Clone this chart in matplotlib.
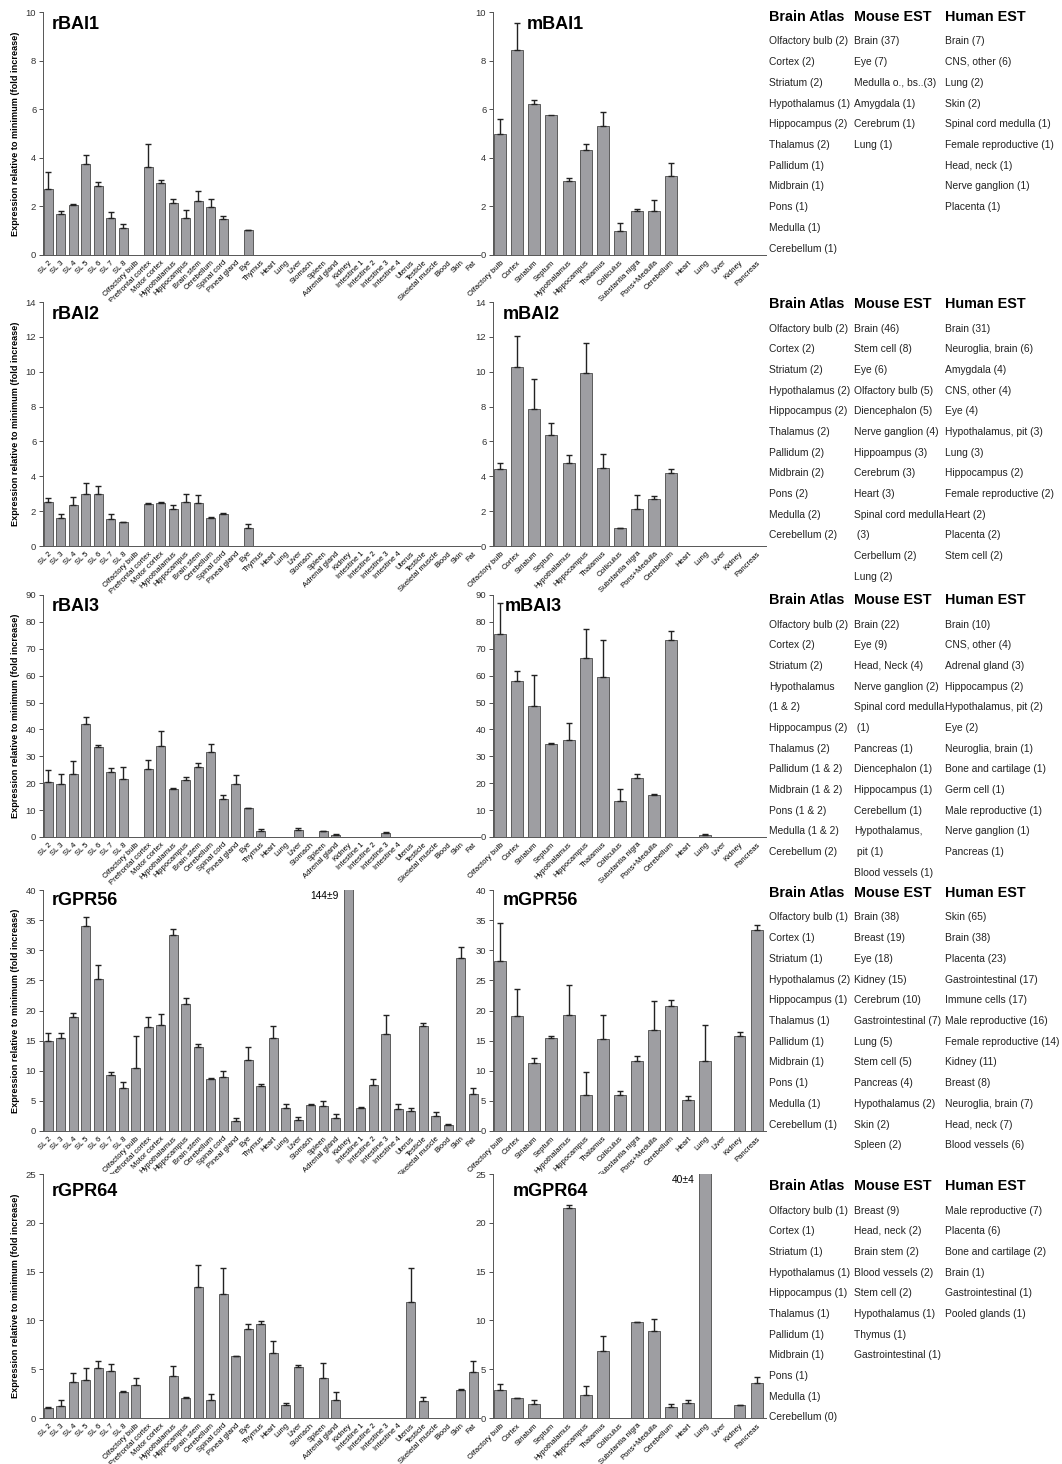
import numpy as np
import matplotlib.pyplot as plt

plt.rcParams['font.family'] = ['Liberation Sans', 'DejaVu Sans']

nan = np.nan

rat_tissues = ['SL 2', 'SL 3', 'SL 4', 'SL 5', 'SL 6', 'SL 7', 'SL 8', 'Olfactory bulb',
               'Prefrontal cortex', 'Motor cortex', 'Hypothalamus', 'Hippocampus', 'Brain stem',
               'Cerebellum', 'Spinal cord', 'Pineal gland', 'Eye', 'Thymus', 'Heart', 'Lung',
               'Liver', 'Stomach', 'Spleen', 'Adrenal gland', 'Kidney', 'Intestine 1',
               'Intestine 2', 'Intestine 3', 'Intestine 4', 'Uterus', 'Testicle',
               'Skeletal muscle', 'Blood', 'Skin', 'Fat']
mouse_tissues = ['Olfactory bulb', 'Cortex', 'Striatum', 'Septum', 'Hypothalamus', 'Hippocampus',
                 'Thalamus', 'Colliculus', 'Substantia nigra', 'Pons+Medulla', 'Cerebellum',
                 'Heart', 'Lung', 'Liver', 'Kidney', 'Pancreas']

# rat panels (mean, upper error)
rbai1_vals = [2.72, 1.67, 2.04, 3.74, 2.85, 1.54, 1.12, nan, 3.62, 2.96, 2.14, 1.51, 2.22, 1.96,
              1.48, nan, 1.01] + [nan] * 18
rbai1_errs = [0.71, 0.13, 0.04, 0.38, 0.14, 0.23, 0.16, nan, 0.93, 0.14, 0.15, 0.34, 0.40, 0.36,
              0.11, nan, 0.03] + [nan] * 18

rbai2_vals = [2.53, 1.61, 2.38, 3.01, 3.01, 1.57, 1.36, nan, 2.42, 2.44, 2.15, 2.55, 2.46, 1.63,
              1.86, nan, 1.04] + [nan] * 18
rbai2_errs = [0.21, 0.23, 0.46, 0.59, 0.41, 0.25, 0.04, nan, 0.04, 0.09, 0.23, 0.42, 0.48, 0.02,
              0.04, nan, 0.21] + [nan] * 18

rbai3_vals = [20.3, 19.7, 23.5, 42.1, 33.3, 24.3, 21.5, nan, 25.4, 34.0, 17.8, 21.3, 26.0, 31.7,
              14.2, 19.7, 10.6, 2.1, nan, nan, 2.5, nan, 2.1, 0.8, nan, nan, nan, 1.5, nan,
              nan, nan, nan, nan, nan, nan]
rbai3_errs = [4.5, 3.9, 4.6, 2.5, 0.9, 1.2, 4.4, nan, 3.4, 5.4, 0.3, 1.2, 1.7, 2.8,
              1.3, 3.4, 0.2, 0.7, nan, nan, 0.8, nan, 0.2, 0.2, nan, nan, nan, 0.2, nan,
              nan, nan, nan, nan, nan, nan]

rgpr56_vals = [15.0, 15.5, 18.9, 34.1, 25.3, 9.3, 7.1, 10.4, 17.3, 17.6, 32.5, 21.1, 13.9, 8.6,
               8.9, 1.66, 11.8, 7.5, 15.4, 3.9, 1.77, 4.3, 4.2, 2.1, 144, 3.9, 7.6, 16.1, 3.7,
               3.3, 17.4, 2.5, 1.05, 28.7, 6.2]
rgpr56_errs = [1.2, 0.7, 0.7, 1.4, 2.2, 0.5, 1.0, 5.3, 1.7, 1.9, 1.0, 0.9, 0.6, 0.2,
               1.1, 0.54, 2.1, 0.3, 2.1, 0.5, 0.53, 0.1, 0.7, 0.8, 9, 0.1, 1.1, 3.1, 0.8,
               0.5, 0.6, 0.7, 0.05, 1.8, 0.9]

rgpr64_vals = [1.02, 1.23, 3.65, 3.92, 5.12, 4.81, 2.7, 3.34, nan, nan, 4.33, 2.08, 13.38, 1.81,
               12.66, 6.31, 9.08, 9.66, 6.66, 1.3, 5.22, nan, 4.1, 1.88, nan, nan, nan, nan, nan,
               11.9, 1.7, nan, nan, 2.9, 4.68]
rgpr64_errs = [0.07, 0.65, 0.95, 1.18, 0.72, 0.75, 0.03, 0.76, nan, nan, 1.03, 0.08, 2.29, 0.61,
               2.7, 0.03, 0.54, 0.24, 1.26, 0.27, 0.17, nan, 1.5, 0.75, nan, nan, nan, nan, nan,
               3.46, 0.45, nan, nan, 0.05, 1.12]

# mouse panels
mbai1_vals = [4.97, 8.44, 6.21, 5.75, 3.03, 4.33, 5.3, 1.0, 1.81, 1.81, 3.27, nan, nan, nan, nan, nan]
mbai1_errs = [0.62, 1.12, 0.16, nan, 0.14, 0.24, 0.6, 0.31, 0.09, 0.47, 0.51, nan, nan, nan, nan, nan]

mbai2_vals = [4.43, 10.25, 7.86, 6.36, 4.76, 9.92, 4.49, 1.02, 2.12, 2.7, 4.16, nan, nan, nan, nan, nan]
mbai2_errs = [0.35, 1.79, 1.74, 0.71, 0.46, 1.74, 0.79, 0.02, 0.83, 0.15, 0.27, nan, nan, nan, nan, nan]

mbai3_vals = [75.6, 57.9, 48.6, 34.5, 36.0, 66.7, 59.4, 13.5, 22.1, 15.5, 73.4, nan, 0.8, nan, nan, nan]
mbai3_errs = [11.6, 3.9, 11.8, 0.5, 6.4, 10.7, 13.8, 4.4, 1.2, 0.5, 3.3, nan, 0.4, nan, nan, nan]

mgpr56_vals = [28.25, 19.1, 11.3, 15.4, 19.3, 6.04, 15.3, 6.04, 11.7, 16.7, 20.7, 5.1, 11.6, nan,
               15.8, 33.35]
mgpr56_errs = [6.35, 4.4, 0.8, 0.4, 4.9, 3.8, 4.0, 0.56, 0.8, 4.8, 1.0, 0.7, 6.0, nan, 0.7, 0.85]

mgpr64_vals = [2.9, 2.0, 1.4, nan, 21.5, 2.4, 6.9, nan, 9.8, 8.9, 1.1, 1.5, 40, nan, 1.3, 3.6]
mgpr64_errs = [0.6, 0.05, 0.4, nan, 0.3, 0.9, 1.5, nan, 0.05, 1.2, 0.3, 0.3, 4, nan, 0.05, 0.6]

# EST / atlas tables
bai1_atlas = ['Olfactory bulb (2)', 'Cortex (2)', 'Striatum (2)', 'Hypothalamus (1)',
              'Hippocampus (2)', 'Thalamus (2)', 'Pallidum (1)', 'Midbrain (1)', 'Pons (1)',
              'Medulla (1)', 'Cerebellum (1)']
bai1_mouse = ['Brain (37)', 'Eye (7)', 'Medulla o., bs..(3)', 'Amygdala (1)', 'Cerebrum (1)',
              'Lung (1)']
bai1_human = ['Brain (7)', 'CNS, other (6)', 'Lung (2)', 'Skin (2)', 'Spinal cord medulla (1)',
              'Female reproductive (1)', 'Head, neck (1)', 'Nerve ganglion (1)', 'Placenta (1)']

bai2_atlas = ['Olfactory bulb (2)', 'Cortex (2)', 'Striatum (2)', 'Hypothalamus (2)',
              'Hippocampus (2)', 'Thalamus (2)', 'Pallidum (2)', 'Midbrain (2)', 'Pons (2)',
              'Medulla (2)', 'Cerebellum (2)']
bai2_mouse = ['Brain (46)', 'Stem cell (8)', 'Eye (6)', 'Olfactory bulb (5)', 'Diencephalon (5)',
              'Nerve ganglion (4)', 'Hippoampus (3)', 'Cerebrum (3)', 'Heart (3)',
              'Spinal cord medulla', ' (3)', 'Cerbellum (2)', 'Lung (2)']
bai2_human = ['Brain (31)', 'Neuroglia, brain (6)', 'Amygdala (4)', 'CNS, other (4)', 'Eye (4)',
              'Hypothalamus, pit (3)', 'Lung (3)', 'Hippocampus (2)', 'Female reproductive (2)',
              'Heart (2)', 'Placenta (2)', 'Stem cell (2)']

bai3_atlas = ['Olfactory bulb (2)', 'Cortex (2)', 'Striatum (2)', 'Hypothalamus', '(1 & 2)',
              'Hippocampus (2)', 'Thalamus (2)', 'Pallidum (1 & 2)', 'Midbrain (1 & 2)',
              'Pons (1 & 2)', 'Medulla (1 & 2)', 'Cerebellum (2)']
bai3_mouse = ['Brain (22)', 'Eye (9)', 'Head, Neck (4)', 'Nerve ganglion (2)', 'Spinal cord medulla',
              ' (1)', 'Pancreas (1)', 'Diencephalon (1)', 'Hippocampus (1)', 'Cerebellum (1)',
              'Hypothalamus,', ' pit (1)', 'Blood vessels (1)']
bai3_human = ['Brain (10)', 'CNS, other (4)', 'Adrenal gland (3)', 'Hippocampus (2)',
              'Hypothalamus, pit (2)', 'Eye (2)', 'Neuroglia, brain (1)', 'Bone and cartilage (1)',
              'Germ cell (1)', 'Male reproductive (1)', 'Nerve ganglion (1)', 'Pancreas (1)']

gpr56_atlas = ['Olfactory bulb (1)', 'Cortex (1)', 'Striatum (1)', 'Hypothalamus (2)',
               'Hippocampus (1)', 'Thalamus (1)', 'Pallidum (1)', 'Midbrain (1)', 'Pons (1)',
               'Medulla (1)', 'Cerebellum (1)']
gpr56_mouse = ['Brain (38)', 'Breast (19)', 'Eye (18)', 'Kidney (15)', 'Cerebrum (10)',
               'Gastrointestinal (7)', 'Lung (5)', 'Stem cell (5)', 'Pancreas (4)',
               'Hypothalamus (2)', 'Skin (2)', 'Spleen (2)']
gpr56_human = ['Skin (65)', 'Brain (38)', 'Placenta (23)', 'Gastrointestinal (17)',
               'Immune cells (17)', 'Male reproductive (16)', 'Female reproductive (14)',
               'Kidney (11)', 'Breast (8)', 'Neuroglia, brain (7)', 'Head, neck (7)',
               'Blood vessels (6)']

gpr64_atlas = ['Olfactory bulb (1)', 'Cortex (1)', 'Striatum (1)', 'Hypothalamus (1)',
               'Hippocampus (1)', 'Thalamus (1)', 'Pallidum (1)', 'Midbrain (1)', 'Pons (1)',
               'Medulla (1)', 'Cerebellum (0)']
gpr64_mouse = ['Breast (9)', 'Head, neck (2)', 'Brain stem (2)', 'Blood vessels (2)',
               'Stem cell (2)', 'Hypothalamus (1)', 'Thymus (1)', 'Gastrointestinal (1)']
gpr64_human = ['Male reproductive (7)', 'Placenta (6)', 'Bone and cartilage (2)', 'Brain (1)',
               'Gastrointestinal (1)', 'Pooled glands (1)']

W, H = 1062, 1464
BAR_COLOR = '#9e9ea2'
EDGE_COLOR = '#4a4a4a'


def px_axes(fig, x0, x1, ytop, ybot):
    return fig.add_axes([x0 / W, 1 - ybot / H, (x1 - x0) / W, (ybot - ytop) / H])


def draw_panel(ax, labels, vals, errs, ymax, ystep, title, title_y=0.985, title_x=0.022):
    x = np.arange(len(labels))
    vals = np.array(vals, dtype=float)
    errs = np.array(errs, dtype=float)
    ax.bar(x, vals, width=0.7, color=BAR_COLOR, edgecolor=EDGE_COLOR, linewidth=0.6, zorder=2)
    ax.errorbar(x, vals, yerr=[np.zeros_like(errs), errs], fmt='none', ecolor='#222222',
                elinewidth=1.0, capsize=2.4, capthick=1.0, zorder=3)
    ax.set_xlim(-0.45, len(labels) - 0.45)
    ax.set_ylim(0, ymax)
    ax.set_yticks(np.arange(0, ymax + 0.01, ystep))
    ax.set_xticks(x)
    ax.set_xticklabels(labels, rotation=45, ha='right', rotation_mode='anchor', fontsize=5.5)
    ax.tick_params(axis='y', labelsize=6.8, length=3, width=0.6, pad=1.5, colors='#333333')
    ax.tick_params(axis='x', length=0, pad=3)
    for s in ['top', 'right']:
        ax.spines[s].set_visible(False)
    for s in ['left', 'bottom']:
        ax.spines[s].set_linewidth(0.7)
        ax.spines[s].set_color('#555555')
    ax.text(title_x, title_y, title, transform=ax.transAxes, fontsize=13, fontweight='bold',
            va='top', ha='left')


def draw_table(fig, header_y, atlas, mouse, human):
    cols = [769, 854, 945]
    heads = ['Brain Atlas', 'Mouse EST', 'Human EST']
    for cx, head, items in zip(cols, heads, [atlas, mouse, human]):
        fig.text(cx / W, 1 - header_y / H, head, fontsize=10.4, fontweight='bold',
                 va='center', ha='left')
        for i, item in enumerate(items):
            y = header_y + 24.5 + i * 20.7
            fig.text(cx / W, 1 - y / H, item, fontsize=7.4, va='center', ha='left',
                     color='#222222')


fig = plt.figure(figsize=(W / 100, H / 100), dpi=100)

rows = [
    (12, 255, rbai1_vals, rbai1_errs, mbai1_vals, mbai1_errs, 10, 2, 'rBAI1', 'mBAI1',
     bai1_atlas, bai1_mouse, bai1_human, 17),
    (302, 546, rbai2_vals, rbai2_errs, mbai2_vals, mbai2_errs, 14, 2, 'rBAI2', 'mBAI2',
     bai2_atlas, bai2_mouse, bai2_human, 304),
    (595, 837, rbai3_vals, rbai3_errs, mbai3_vals, mbai3_errs, 90, 10, 'rBAI3', 'mBAI3',
     bai3_atlas, bai3_mouse, bai3_human, 600),
    (890, 1131, rgpr56_vals, rgpr56_errs, mgpr56_vals, mgpr56_errs, 40, 5, 'rGPR56', 'mGPR56',
     gpr56_atlas, gpr56_mouse, gpr56_human, 893),
    (1174, 1418, rgpr64_vals, rgpr64_errs, mgpr64_vals, mgpr64_errs, 25, 5, 'rGPR64', 'mGPR64',
     gpr64_atlas, gpr64_mouse, gpr64_human, 1186),
]

mouse_title_x = [0.126, 0.038, 0.045, 0.038, 0.075]
title_ys = [0.985, 0.985, 0.988, 0.99, 0.965]

for i, (yt, yb, rv, re, mv, me, ymax, ystep, rt, mt, at, mo, hu, hy) in enumerate(rows):
    ax_r = px_axes(fig, 42.5, 480, yt, yb)
    draw_panel(ax_r, rat_tissues, rv, re, ymax, ystep, rt, title_y=title_ys[i])
    ax_r.set_ylabel('Expression relative to minimum (fold increase)', fontsize=6.6,
                    fontweight='bold', labelpad=4)
    ax_m = px_axes(fig, 492.5, 766, yt, yb)
    draw_panel(ax_m, mouse_tissues, mv, me, ymax, ystep, mt, title_y=title_ys[i],
               title_x=mouse_title_x[i])
    draw_table(fig, hy, at, mo, hu)

    if rt == 'rGPR56':
        k = rat_tissues.index('Kidney')
        ax_r.text(k - 1.9, ymax * 0.975, f'{rv[k]:.0f}\u00b1{re[k]:.0f}', fontsize=7.4,
                  ha='center', va='center')
    if mt == 'mGPR64':
        k = mouse_tissues.index('Lung')
        ax_m.text(k - 1.3, ymax * 0.975, f'{mv[k]:.0f}\u00b1{me[k]:.0f}', fontsize=7.4,
                  ha='center', va='center')

fig.savefig('out.png', dpi=100)
